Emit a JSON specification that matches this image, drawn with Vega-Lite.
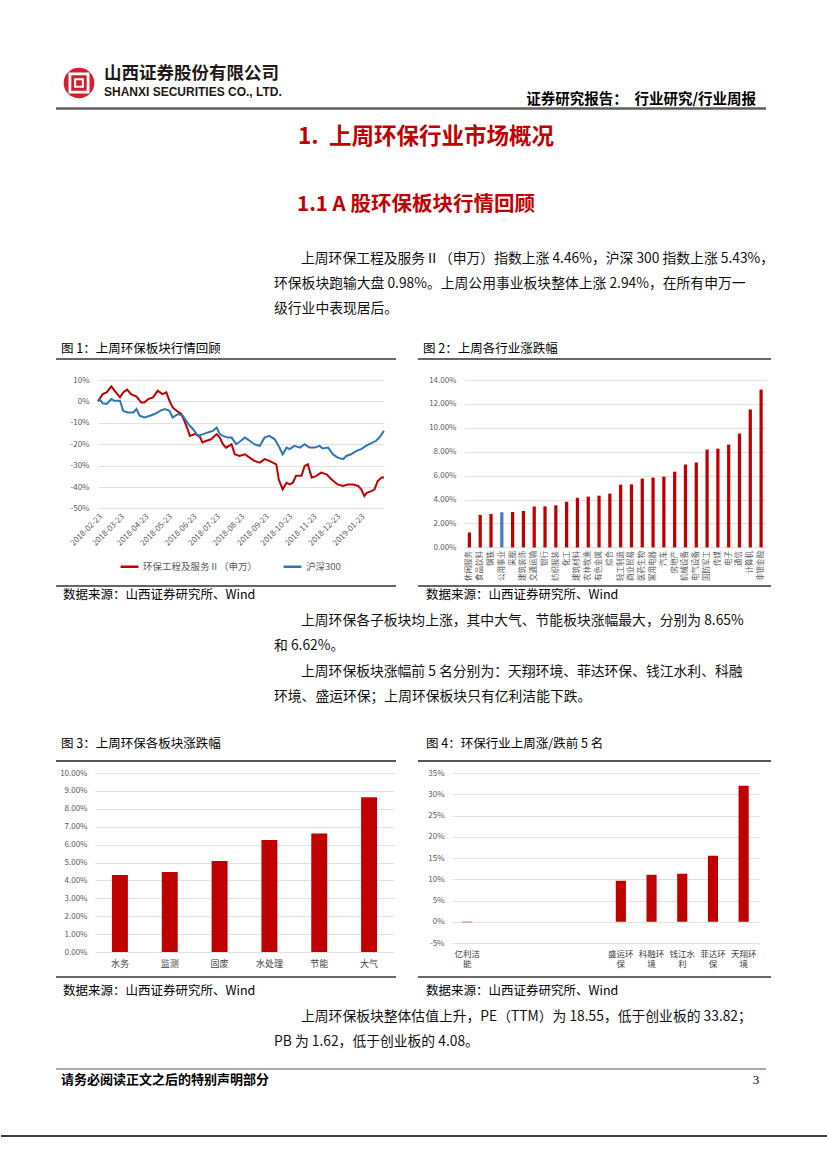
{
  "$schema": "https://vega.github.io/schema/vega-lite/v6.json",
  "padding": 0,
  "background": "white",
  "spacing": 0,
  "config": {
    "view": {"stroke": null},
    "font": "Noto Sans CJK SC",
    "text": {"font": "Noto Sans CJK SC"},
    "concat": {"spacing": 0},
    "axis": {"labelFont": "Noto Sans CJK SC", "labelColor": "#595959", "labelFontSize": 8, "gridColor": "#D9D9D9", "gridWidth": 0.8, "domain": false, "ticks": false, "labelFlush": false},
    "legend": {"labelFont": "Noto Sans CJK SC"}
  },
  "datasets": {
    "trend": [
      {"s": "环保工程及服务Ⅱ（申万）", "d": "2018-02-23", "v": 0},
      {"s": "环保工程及服务Ⅱ（申万）", "d": "2018-03-01", "v": 3.4},
      {"s": "环保工程及服务Ⅱ（申万）", "d": "2018-03-06", "v": 4.2},
      {"s": "环保工程及服务Ⅱ（申万）", "d": "2018-03-12", "v": 7.0},
      {"s": "环保工程及服务Ⅱ（申万）", "d": "2018-03-16", "v": 5.0},
      {"s": "环保工程及服务Ⅱ（申万）", "d": "2018-03-23", "v": 1.9},
      {"s": "环保工程及服务Ⅱ（申万）", "d": "2018-03-27", "v": 4.2},
      {"s": "环保工程及服务Ⅱ（申万）", "d": "2018-04-01", "v": 5.5},
      {"s": "环保工程及服务Ⅱ（申万）", "d": "2018-04-06", "v": 3.4},
      {"s": "环保工程及服务Ⅱ（申万）", "d": "2018-04-13", "v": 2.3},
      {"s": "环保工程及服务Ⅱ（申万）", "d": "2018-04-19", "v": -0.5},
      {"s": "环保工程及服务Ⅱ（申万）", "d": "2018-04-23", "v": -0.5},
      {"s": "环保工程及服务Ⅱ（申万）", "d": "2018-04-28", "v": 1.1},
      {"s": "环保工程及服务Ⅱ（申万）", "d": "2018-05-04", "v": 1.9},
      {"s": "环保工程及服务Ⅱ（申万）", "d": "2018-05-10", "v": 5.0},
      {"s": "环保工程及服务Ⅱ（申万）", "d": "2018-05-16", "v": 3.4},
      {"s": "环保工程及服务Ⅱ（申万）", "d": "2018-05-21", "v": 4.2},
      {"s": "环保工程及服务Ⅱ（申万）", "d": "2018-05-25", "v": 0.3},
      {"s": "环保工程及服务Ⅱ（申万）", "d": "2018-05-29", "v": -2.8},
      {"s": "环保工程及服务Ⅱ（申万）", "d": "2018-06-03", "v": -4.4},
      {"s": "环保工程及服务Ⅱ（申万）", "d": "2018-06-09", "v": -5.9},
      {"s": "环保工程及服务Ⅱ（申万）", "d": "2018-06-13", "v": -9.1},
      {"s": "环保工程及服务Ⅱ（申万）", "d": "2018-06-17", "v": -13.0},
      {"s": "环保工程及服务Ⅱ（申万）", "d": "2018-06-20", "v": -16.1},
      {"s": "环保工程及服务Ⅱ（申万）", "d": "2018-06-26", "v": -15.3},
      {"s": "环保工程及服务Ⅱ（申万）", "d": "2018-07-02", "v": -16.1},
      {"s": "环保工程及服务Ⅱ（申万）", "d": "2018-07-06", "v": -19.2},
      {"s": "环保工程及服务Ⅱ（申万）", "d": "2018-07-11", "v": -18.4},
      {"s": "环保工程及服务Ⅱ（申万）", "d": "2018-07-17", "v": -17.7},
      {"s": "环保工程及服务Ⅱ（申万）", "d": "2018-07-24", "v": -15.3},
      {"s": "环保工程及服务Ⅱ（申万）", "d": "2018-07-28", "v": -16.9},
      {"s": "环保工程及服务Ⅱ（申万）", "d": "2018-08-01", "v": -20.0},
      {"s": "环保工程及服务Ⅱ（申万）", "d": "2018-08-05", "v": -21.6},
      {"s": "环保工程及服务Ⅱ（申万）", "d": "2018-08-12", "v": -20.0},
      {"s": "环保工程及服务Ⅱ（申万）", "d": "2018-08-16", "v": -24.7},
      {"s": "环保工程及服务Ⅱ（申万）", "d": "2018-08-22", "v": -25.5},
      {"s": "环保工程及服务Ⅱ（申万）", "d": "2018-08-29", "v": -24.7},
      {"s": "环保工程及服务Ⅱ（申万）", "d": "2018-09-04", "v": -26.3},
      {"s": "环保工程及服务Ⅱ（申万）", "d": "2018-09-10", "v": -27.8},
      {"s": "环保工程及服务Ⅱ（申万）", "d": "2018-09-17", "v": -28.6},
      {"s": "环保工程及服务Ⅱ（申万）", "d": "2018-09-23", "v": -27.0},
      {"s": "环保工程及服务Ⅱ（申万）", "d": "2018-09-29", "v": -27.8},
      {"s": "环保工程及服务Ⅱ（申万）", "d": "2018-10-08", "v": -29.4},
      {"s": "环保工程及服务Ⅱ（申万）", "d": "2018-10-11", "v": -36.4},
      {"s": "环保工程及服务Ⅱ（申万）", "d": "2018-10-16", "v": -41.1},
      {"s": "环保工程及服务Ⅱ（申万）", "d": "2018-10-21", "v": -38.0},
      {"s": "环保工程及服务Ⅱ（申万）", "d": "2018-10-25", "v": -38.8},
      {"s": "环保工程及服务Ⅱ（申万）", "d": "2018-10-29", "v": -38.0},
      {"s": "环保工程及服务Ⅱ（申万）", "d": "2018-11-02", "v": -34.8},
      {"s": "环保工程及服务Ⅱ（申万）", "d": "2018-11-09", "v": -34.8},
      {"s": "环保工程及服务Ⅱ（申万）", "d": "2018-11-13", "v": -30.2},
      {"s": "环保工程及服务Ⅱ（申万）", "d": "2018-11-17", "v": -29.4},
      {"s": "环保工程及服务Ⅱ（申万）", "d": "2018-11-22", "v": -35.6},
      {"s": "环保工程及服务Ⅱ（申万）", "d": "2018-11-28", "v": -34.8},
      {"s": "环保工程及服务Ⅱ（申万）", "d": "2018-12-04", "v": -33.3},
      {"s": "环保工程及服务Ⅱ（申万）", "d": "2018-12-11", "v": -34.1},
      {"s": "环保工程及服务Ⅱ（申万）", "d": "2018-12-17", "v": -36.4},
      {"s": "环保工程及服务Ⅱ（申万）", "d": "2018-12-25", "v": -38.8},
      {"s": "环保工程及服务Ⅱ（申万）", "d": "2019-01-01", "v": -39.5},
      {"s": "环保工程及服务Ⅱ（申万）", "d": "2019-01-07", "v": -38.8},
      {"s": "环保工程及服务Ⅱ（申万）", "d": "2019-01-14", "v": -38.8},
      {"s": "环保工程及服务Ⅱ（申万）", "d": "2019-01-20", "v": -39.5},
      {"s": "环保工程及服务Ⅱ（申万）", "d": "2019-01-24", "v": -41.1},
      {"s": "环保工程及服务Ⅱ（申万）", "d": "2019-01-28", "v": -44.2},
      {"s": "环保工程及服务Ⅱ（申万）", "d": "2019-01-31", "v": -42.7},
      {"s": "环保工程及服务Ⅱ（申万）", "d": "2019-02-06", "v": -41.9},
      {"s": "环保工程及服务Ⅱ（申万）", "d": "2019-02-10", "v": -41.1},
      {"s": "环保工程及服务Ⅱ（申万）", "d": "2019-02-14", "v": -37.2},
      {"s": "环保工程及服务Ⅱ（申万）", "d": "2019-02-19", "v": -35.6},
      {"s": "环保工程及服务Ⅱ（申万）", "d": "2019-02-22", "v": -35.6},
      {"s": "沪深300", "d": "2018-02-23", "v": 0},
      {"s": "沪深300", "d": "2018-02-25", "v": 1.1},
      {"s": "沪深300", "d": "2018-03-01", "v": -0.9},
      {"s": "沪深300", "d": "2018-03-06", "v": -1.2},
      {"s": "沪深300", "d": "2018-03-12", "v": 1.1},
      {"s": "沪深300", "d": "2018-03-16", "v": 0.3},
      {"s": "沪深300", "d": "2018-03-23", "v": 0.3},
      {"s": "沪深300", "d": "2018-03-27", "v": -4.4},
      {"s": "沪深300", "d": "2018-04-02", "v": -5.2},
      {"s": "沪深300", "d": "2018-04-09", "v": -5.2},
      {"s": "沪深300", "d": "2018-04-13", "v": -3.6},
      {"s": "沪深300", "d": "2018-04-17", "v": -6.7},
      {"s": "沪深300", "d": "2018-04-23", "v": -7.5},
      {"s": "沪深300", "d": "2018-04-30", "v": -6.7},
      {"s": "沪深300", "d": "2018-05-06", "v": -5.9},
      {"s": "沪深300", "d": "2018-05-13", "v": -4.4},
      {"s": "沪深300", "d": "2018-05-19", "v": -3.6},
      {"s": "沪深300", "d": "2018-05-25", "v": -4.4},
      {"s": "沪深300", "d": "2018-05-29", "v": -7.5},
      {"s": "沪深300", "d": "2018-06-05", "v": -5.9},
      {"s": "沪深300", "d": "2018-06-11", "v": -6.7},
      {"s": "沪深300", "d": "2018-06-18", "v": -10.6},
      {"s": "沪深300", "d": "2018-06-24", "v": -13.0},
      {"s": "沪深300", "d": "2018-06-30", "v": -16.1},
      {"s": "沪深300", "d": "2018-07-07", "v": -15.3},
      {"s": "沪深300", "d": "2018-07-13", "v": -14.5},
      {"s": "沪深300", "d": "2018-07-19", "v": -13.8},
      {"s": "沪深300", "d": "2018-07-24", "v": -12.2},
      {"s": "沪深300", "d": "2018-07-28", "v": -15.3},
      {"s": "沪深300", "d": "2018-08-01", "v": -16.1},
      {"s": "沪深300", "d": "2018-08-07", "v": -16.9},
      {"s": "沪深300", "d": "2018-08-12", "v": -16.9},
      {"s": "沪深300", "d": "2018-08-18", "v": -20.0},
      {"s": "沪深300", "d": "2018-08-24", "v": -18.4},
      {"s": "沪深300", "d": "2018-08-29", "v": -16.9},
      {"s": "沪深300", "d": "2018-09-04", "v": -18.4},
      {"s": "沪深300", "d": "2018-09-10", "v": -20.0},
      {"s": "沪深300", "d": "2018-09-17", "v": -20.8},
      {"s": "沪深300", "d": "2018-09-23", "v": -16.9},
      {"s": "沪深300", "d": "2018-09-29", "v": -16.1},
      {"s": "沪深300", "d": "2018-10-06", "v": -17.7},
      {"s": "沪深300", "d": "2018-10-12", "v": -21.6},
      {"s": "沪深300", "d": "2018-10-16", "v": -24.7},
      {"s": "沪深300", "d": "2018-10-21", "v": -21.6},
      {"s": "沪深300", "d": "2018-10-25", "v": -22.3},
      {"s": "沪深300", "d": "2018-10-31", "v": -20.8},
      {"s": "沪深300", "d": "2018-11-07", "v": -21.6},
      {"s": "沪深300", "d": "2018-11-13", "v": -20.0},
      {"s": "沪深300", "d": "2018-11-19", "v": -21.6},
      {"s": "沪深300", "d": "2018-11-26", "v": -21.6},
      {"s": "沪深300", "d": "2018-12-02", "v": -20.8},
      {"s": "沪深300", "d": "2018-12-06", "v": -22.0},
      {"s": "沪深300", "d": "2018-12-13", "v": -21.6},
      {"s": "沪深300", "d": "2018-12-19", "v": -24.7},
      {"s": "沪深300", "d": "2018-12-25", "v": -26.3},
      {"s": "沪深300", "d": "2019-01-01", "v": -27.0},
      {"s": "沪深300", "d": "2019-01-05", "v": -25.5},
      {"s": "沪深300", "d": "2019-01-11", "v": -24.7},
      {"s": "沪深300", "d": "2019-01-18", "v": -23.1},
      {"s": "沪深300", "d": "2019-01-24", "v": -22.3},
      {"s": "沪深300", "d": "2019-01-30", "v": -20.8},
      {"s": "沪深300", "d": "2019-02-06", "v": -19.5},
      {"s": "沪深300", "d": "2019-02-12", "v": -18.4},
      {"s": "沪深300", "d": "2019-02-16", "v": -16.9},
      {"s": "沪深300", "d": "2019-02-22", "v": -13.8}
    ],
    "ind": [
      {"name": "休闲服务", "v": 1.25},
      {"name": "食品饮料", "v": 2.72},
      {"name": "钢铁", "v": 2.8},
      {"name": "公用事业", "v": 2.94},
      {"name": "采掘", "v": 2.96},
      {"name": "建筑装饰", "v": 3.05},
      {"name": "交通运输", "v": 3.42},
      {"name": "银行", "v": 3.43},
      {"name": "纺织服装", "v": 3.52},
      {"name": "化工", "v": 3.82},
      {"name": "建筑材料", "v": 4.15},
      {"name": "农林牧渔", "v": 4.25},
      {"name": "有色金属", "v": 4.33},
      {"name": "综合", "v": 4.5},
      {"name": "轻工制造", "v": 5.25},
      {"name": "商业贸易", "v": 5.27},
      {"name": "医药生物", "v": 5.76},
      {"name": "家用电器", "v": 5.84},
      {"name": "汽车", "v": 5.92},
      {"name": "房地产", "v": 6.33},
      {"name": "机械设备", "v": 6.93},
      {"name": "电气设备", "v": 7.1},
      {"name": "国防军工", "v": 8.18},
      {"name": "传媒", "v": 8.26},
      {"name": "电子", "v": 8.6},
      {"name": "通信", "v": 9.52},
      {"name": "计算机", "v": 11.53},
      {"name": "非银金融", "v": 13.2}
    ],
    "sub": [
      {"name": "水务", "v": 4.3},
      {"name": "监测", "v": 4.47},
      {"name": "固废", "v": 5.08},
      {"name": "水处理", "v": 6.26},
      {"name": "节能", "v": 6.62},
      {"name": "大气", "v": 8.65}
    ],
    "top": [
      {"name": "亿利洁能", "v": -0.12},
      {"name": "盛运环保", "v": 9.65},
      {"name": "科融环境", "v": 11.06},
      {"name": "钱江水利", "v": 11.3},
      {"name": "菲达环保", "v": 15.53},
      {"name": "天翔环境", "v": 32.0}
    ]
  },
  "vconcat": [
    {"width": 827, "height": 65, "data": {"values": []}, "mark": "point"},
    {
      "hconcat": [
        {"width": 60, "height": 42, "data": {"values": []}, "mark": "point"},
        {
          "width": 36, "height": 36,
          "data": {"values": [{"k": "logo"}]},
          "layer": [
            {"mark": {"type": "point", "shape": "circle", "filled": true, "color": "#D0202E", "opacity": 1, "size": 940}},
            {"mark": {"type": "point", "shape": "square", "filled": false, "stroke": "#ffffff", "strokeWidth": 2.8, "opacity": 1, "size": 330}},
            {"mark": {"type": "point", "shape": "square", "filled": false, "stroke": "#ffffff", "strokeWidth": 2, "opacity": 1, "size": 60}}
          ]
        },
        {"width": 7, "height": 36, "data": {"values": []}, "mark": "point"},
        {
          "width": 190, "height": 36,
          "layer": [
            {"data": {"values": [{"i": 0, "t": "山西证券股份有限公司"}]}, "mark": {"type": "text", "align": "left", "baseline": "middle", "fontSize": 17.5, "fontWeight": "bold", "color": "#231815"}, "encoding": {"text": {"field": "t"}, "x": {"datum": 0, "type": "quantitative", "scale": {"domain": [0, 1]}, "axis": null}, "y": {"field": "i", "type": "ordinal", "scale": {"type": "point", "padding": 0.5, "domain": [0, 1]}, "axis": null}}},
            {"data": {"values": [{"i": 1, "t": "SHANXI SECURITIES CO., LTD."}]}, "mark": {"type": "text", "align": "left", "baseline": "middle", "font": "Liberation Sans", "fontSize": 12, "fontWeight": "bold", "color": "#231815"}, "encoding": {"text": {"field": "t"}, "x": {"datum": 0, "type": "quantitative", "scale": {"domain": [0, 1]}, "axis": null}, "y": {"field": "i", "type": "ordinal", "scale": {"type": "point", "padding": 0.5, "domain": [0, 1]}, "axis": null}}}
          ]
        },
        {"width": 227, "height": 42, "data": {"values": []}, "mark": "point"},
        {"width": 235, "height": 42, "data": {"values": [{"t": "证券研究报告：\u00a0\u00a0行业研究/行业周报"}]}, "mark": {"type": "text", "align": "right", "baseline": "bottom", "fontSize": 14.5, "fontWeight": "bold", "color": "#000000"}, "encoding": {"text": {"field": "t"}, "x": {"datum": 1, "type": "quantitative", "scale": {"domain": [0, 1]}, "axis": null}, "y": {"datum": 0, "type": "quantitative", "scale": {"domain": [0, 1]}, "axis": null}}}
      ],
      "spacing": 0, "bounds": "flush"
    },
    {
      "hconcat": [
        {"width": 55, "height": 3, "data": {"values": []}, "mark": "point"},
        {"width": 710, "height": 3, "data": {"values": [{"r": 1}]}, "mark": {"type": "rule", "color": "#5F5F5F", "strokeWidth": 2.5}, "encoding": {"y": {"datum": 0.5, "type": "quantitative", "scale": {"domain": [0, 1]}, "axis": null}}}
      ],
      "spacing": 0, "bounds": "flush"
    },
    {
      "hconcat": [
        {"width": 275, "height": 53, "data": {"values": []}, "mark": "point"},
        {"width": 300, "height": 53, "data": {"values": [{"t": "1.\u00a0\u00a0上周环保行业市场概况"}]}, "mark": {"type": "text", "align": "center", "baseline": "middle", "fontSize": 22.5, "fontWeight": "bold", "color": "#C00000"}, "encoding": {"text": {"field": "t"}}}
      ],
      "spacing": 0, "bounds": "flush"
    },
    {
      "hconcat": [
        {"width": 265, "height": 83, "data": {"values": []}, "mark": "point"},
        {"width": 300, "height": 83, "data": {"values": [{"t": "1.1 A\u00a0股环保板块行情回顾"}]}, "mark": {"type": "text", "align": "center", "baseline": "middle", "fontSize": 20.5, "fontWeight": "bold", "color": "#C00000"}, "encoding": {"text": {"field": "t"}}}
      ],
      "spacing": 0, "bounds": "flush"
    },
    {
      "hconcat": [
        {"width": 273, "height": 75, "data": {"values": []}, "mark": "point"},
        {
          "width": 494, "height": 75,
          "data": {"values": [
            {"i": 0, "first": true, "t": "上周环保工程及服务Ⅱ（申万）指数上涨 4.46%，沪深 300 指数上涨 5.43%，"},
            {"i": 1, "first": false, "t": "环保板块跑输大盘 0.98%。上周公用事业板块整体上涨 2.94%，在所有申万一"},
            {"i": 2, "first": false, "t": "级行业中表现居后。"}
          ]},
          "encoding": {
            "text": {"field": "t"},
            "x": {"datum": 0, "type": "quantitative", "scale": {"domain": [0, 1]}, "axis": null},
            "y": {"field": "i", "type": "ordinal", "scale": {"type": "point", "padding": 0.5, "domain": [0, 1, 2]}, "axis": null}
          },
          "layer": [
            {"transform": [{"filter": "datum.first"}], "mark": {"type": "text", "align": "left", "baseline": "middle", "fontSize": 13.8, "color": "#111111", "dx": 27}},
            {"transform": [{"filter": "!datum.first"}], "mark": {"type": "text", "align": "left", "baseline": "middle", "fontSize": 13.8, "color": "#111111"}}
          ]
        }
      ],
      "spacing": 0, "bounds": "flush"
    },
    {"width": 827, "height": 18, "data": {"values": []}, "mark": "point"},
    {
      "hconcat": [
        {"width": 60, "height": 19, "data": {"values": []}, "mark": "point"},
        {"width": 362, "height": 19, "data": {"values": [{"t": "图 1：上周环保板块行情回顾"}]}, "mark": {"type": "text", "align": "left", "baseline": "middle", "fontSize": 12.5, "color": "#000000"}, "encoding": {"text": {"field": "t"}, "x": {"datum": 0, "type": "quantitative", "scale": {"domain": [0, 1]}, "axis": null}}},
        {"width": 345, "height": 19, "data": {"values": [{"t": "图 2：上周各行业涨跌幅"}]}, "mark": {"type": "text", "align": "left", "baseline": "middle", "fontSize": 12.5, "color": "#000000"}, "encoding": {"text": {"field": "t"}, "x": {"datum": 0, "type": "quantitative", "scale": {"domain": [0, 1]}, "axis": null}}}
      ],
      "spacing": 0, "bounds": "flush"
    },
    {
      "hconcat": [
        {"width": 55, "height": 2, "data": {"values": []}, "mark": "point"},
        {"width": 340, "height": 2, "data": {"values": [{"r": 1}]}, "mark": {"type": "rule", "color": "#333333", "strokeWidth": 1.6}, "encoding": {"y": {"datum": 0.5, "type": "quantitative", "scale": {"domain": [0, 1]}, "axis": null}}},
        {"width": 22, "height": 2, "data": {"values": []}, "mark": "point"},
        {"width": 353, "height": 2, "data": {"values": [{"r": 1}]}, "mark": {"type": "rule", "color": "#333333", "strokeWidth": 1.6}, "encoding": {"y": {"datum": 0.5, "type": "quantitative", "scale": {"domain": [0, 1]}, "axis": null}}}
      ],
      "spacing": 0, "bounds": "flush"
    },
    {"width": 827, "height": 15.3, "data": {"values": []}, "mark": "point"},
    {
      "hconcat": [
        {"width": 97, "height": 204.7, "data": {"values": []}, "mark": "point"},
        {
          "width": 286, "height": 128.4,
          "data": {"name": "trend"},
          "mark": {"type": "line", "strokeWidth": 2},
          "encoding": {
            "x": {"field": "d", "type": "temporal", "title": null,
              "scale": {"domain": [{"year": 2018, "month": 2, "date": 23}, {"year": 2019, "month": 2, "date": 22}]},
              "axis": {"values": [
                {"year": 2018, "month": 2, "date": 23}, {"year": 2018, "month": 3, "date": 23}, {"year": 2018, "month": 4, "date": 23},
                {"year": 2018, "month": 5, "date": 23}, {"year": 2018, "month": 6, "date": 23}, {"year": 2018, "month": 7, "date": 23},
                {"year": 2018, "month": 8, "date": 23}, {"year": 2018, "month": 9, "date": 23}, {"year": 2018, "month": 10, "date": 23},
                {"year": 2018, "month": 11, "date": 23}, {"year": 2018, "month": 12, "date": 23}, {"year": 2019, "month": 1, "date": 23}],
                "format": "%Y-%m-%d", "labelAngle": -45, "grid": false, "labelFontSize": 8, "labelPadding": 4, "labelOverlap": false}},
            "y": {"field": "v", "type": "quantitative", "title": null,
              "scale": {"domain": [-50, 10]},
              "axis": {"values": [-50, -40, -30, -20, -10, 0, 10], "labelExpr": "datum.value + '%'", "grid": true, "labelPadding": 9}},
            "color": {"field": "s", "type": "nominal",
              "scale": {"domain": ["环保工程及服务Ⅱ（申万）", "沪深300"], "range": ["#C00000", "#2E75B6"]},
              "legend": {"title": null, "orient": "none", "legendX": 118, "legendY": 556, "direction": "horizontal", "symbolType": "stroke", "symbolStrokeWidth": 2.5, "symbolSize": 320, "labelFontSize": 9.5, "labelColor": "#595959", "columnPadding": 20, "padding": 0, "labelOffset": 3}}
          }
        },
        {"width": 79.5, "height": 204.7, "data": {"values": []}, "mark": "point"},
        {
          "width": 302.5, "height": 167.4,
          "data": {"name": "ind"},
          "mark": {"type": "bar"},
          "encoding": {
            "x": {"field": "name", "type": "nominal", "sort": null, "title": null,
              "scale": {"paddingInner": 0.7, "paddingOuter": 0.35},
              "axis": {"labelAngle": 270, "labelFontSize": 7.5, "labelPadding": 3, "labelOverlap": false}},
            "y": {"field": "v", "type": "quantitative", "title": null,
              "scale": {"domain": [0, 14]},
              "axis": {"values": [0, 2, 4, 6, 8, 10, 12, 14], "labelExpr": "format(datum.value, '.2f') + '%'", "grid": true, "labelPadding": 8}},
            "color": {"condition": {"test": "datum.name === '公用事业'", "value": "#4A7EBB"}, "value": "#C00000"}
          }
        }
      ],
      "spacing": 0, "bounds": "flush"
    },
    {
      "hconcat": [
        {"width": 55, "height": 2, "data": {"values": []}, "mark": "point"},
        {"width": 340, "height": 2, "data": {"values": [{"r": 1}]}, "mark": {"type": "rule", "color": "#333333", "strokeWidth": 1.6}, "encoding": {"y": {"datum": 0.5, "type": "quantitative", "scale": {"domain": [0, 1]}, "axis": null}}},
        {"width": 22, "height": 2, "data": {"values": []}, "mark": "point"},
        {"width": 353, "height": 2, "data": {"values": [{"r": 1}]}, "mark": {"type": "rule", "color": "#333333", "strokeWidth": 1.6}, "encoding": {"y": {"datum": 0.5, "type": "quantitative", "scale": {"domain": [0, 1]}, "axis": null}}}
      ],
      "spacing": 0, "bounds": "flush"
    },
    {
      "hconcat": [
        {"width": 62, "height": 16, "data": {"values": []}, "mark": "point"},
        {"width": 363, "height": 16, "data": {"values": [{"t": "数据来源：山西证券研究所、Wind"}]}, "mark": {"type": "text", "align": "left", "baseline": "middle", "fontSize": 12.5, "color": "#000000"}, "encoding": {"text": {"field": "t"}, "x": {"datum": 0, "type": "quantitative", "scale": {"domain": [0, 1]}, "axis": null}}},
        {"width": 340, "height": 16, "data": {"values": [{"t": "数据来源：山西证券研究所、Wind"}]}, "mark": {"type": "text", "align": "left", "baseline": "middle", "fontSize": 12.5, "color": "#000000"}, "encoding": {"text": {"field": "t"}, "x": {"datum": 0, "type": "quantitative", "scale": {"domain": [0, 1]}, "axis": null}}}
      ],
      "spacing": 0, "bounds": "flush"
    },
    {"width": 827, "height": 5, "data": {"values": []}, "mark": "point"},
    {
      "hconcat": [
        {"width": 273, "height": 102, "data": {"values": []}, "mark": "point"},
        {
          "width": 494, "height": 102,
          "data": {"values": [
            {"i": 0, "first": true, "t": "上周环保各子板块均上涨，其中大气、节能板块涨幅最大，分别为 8.65%"},
            {"i": 1, "first": false, "t": "和 6.62%。"},
            {"i": 2, "first": true, "t": "上周环保板块涨幅前 5 名分别为：天翔环境、菲达环保、钱江水利、科融"},
            {"i": 3, "first": false, "t": "环境、盛运环保；上周环保板块只有亿利洁能下跌。"}
          ]},
          "encoding": {
            "text": {"field": "t"},
            "x": {"datum": 0, "type": "quantitative", "scale": {"domain": [0, 1]}, "axis": null},
            "y": {"field": "i", "type": "ordinal", "scale": {"type": "point", "padding": 0.5, "domain": [0, 1, 2, 3]}, "axis": null}
          },
          "layer": [
            {"transform": [{"filter": "datum.first"}], "mark": {"type": "text", "align": "left", "baseline": "middle", "fontSize": 13.8, "color": "#111111", "dx": 27}},
            {"transform": [{"filter": "!datum.first"}], "mark": {"type": "text", "align": "left", "baseline": "middle", "fontSize": 13.8, "color": "#111111"}}
          ]
        }
      ],
      "spacing": 0, "bounds": "flush"
    },
    {"width": 827, "height": 24, "data": {"values": []}, "mark": "point"},
    {
      "hconcat": [
        {"width": 60, "height": 20, "data": {"values": []}, "mark": "point"},
        {"width": 365, "height": 20, "data": {"values": [{"t": "图 3：上周环保各板块涨跌幅"}]}, "mark": {"type": "text", "align": "left", "baseline": "middle", "fontSize": 12.5, "color": "#000000"}, "encoding": {"text": {"field": "t"}, "x": {"datum": 0, "type": "quantitative", "scale": {"domain": [0, 1]}, "axis": null}}},
        {"width": 345, "height": 20, "data": {"values": [{"t": "图 4：环保行业上周涨/跌前 5 名"}]}, "mark": {"type": "text", "align": "left", "baseline": "middle", "fontSize": 12.5, "color": "#000000"}, "encoding": {"text": {"field": "t"}, "x": {"datum": 0, "type": "quantitative", "scale": {"domain": [0, 1]}, "axis": null}}}
      ],
      "spacing": 0, "bounds": "flush"
    },
    {"width": 827, "height": 6, "data": {"values": []}, "mark": "point"},
    {
      "hconcat": [
        {"width": 55, "height": 2, "data": {"values": []}, "mark": "point"},
        {"width": 340, "height": 2, "data": {"values": [{"r": 1}]}, "mark": {"type": "rule", "color": "#555555", "strokeWidth": 1.8}, "encoding": {"y": {"datum": 0.5, "type": "quantitative", "scale": {"domain": [0, 1]}, "axis": null}}},
        {"width": 22, "height": 2, "data": {"values": []}, "mark": "point"},
        {"width": 353, "height": 2, "data": {"values": [{"r": 1}]}, "mark": {"type": "rule", "color": "#555555", "strokeWidth": 1.8}, "encoding": {"y": {"datum": 0.5, "type": "quantitative", "scale": {"domain": [0, 1]}, "axis": null}}}
      ],
      "spacing": 0, "bounds": "flush"
    },
    {"width": 827, "height": 7, "data": {"values": []}, "mark": "point"},
    {
      "hconcat": [
        {"width": 94, "height": 203, "data": {"values": []}, "mark": "point"},
        {
          "width": 299, "height": 179,
          "data": {"name": "sub"},
          "mark": {"type": "bar", "color": "#C00000"},
          "encoding": {
            "x": {"field": "name", "type": "nominal", "sort": null, "title": null,
              "scale": {"paddingInner": 0.68, "paddingOuter": 0.34},
              "axis": {"labelAngle": 0, "labelFontSize": 9, "labelColor": "#404040", "labelPadding": 7}},
            "y": {"field": "v", "type": "quantitative", "title": null,
              "scale": {"domain": [0, 10]},
              "axis": {"values": [0, 1, 2, 3, 4, 5, 6, 7, 8, 9, 10], "labelExpr": "format(datum.value, '.2f') + '%'", "grid": true, "labelPadding": 8}}
          }
        },
        {"width": 58, "height": 203, "data": {"values": []}, "mark": "point"},
        {
          "width": 307, "height": 170,
          "data": {"name": "top"},
          "mark": {"type": "bar", "color": "#C00000"},
          "encoding": {
            "x": {"field": "name", "type": "nominal", "title": null,
              "scale": {"domain": ["亿利洁能", " ", "  ", "   ", "    ", "盛运环保", "科融环境", "钱江水利", "菲达环保", "天翔环境"], "paddingInner": 0.67, "paddingOuter": 0.335},
              "axis": {"labelAngle": 0, "labelFontSize": 8.5, "labelColor": "#404040", "labelPadding": 6, "labelBaseline": "top", "labelLineHeight": 10.5, "labelExpr": "length(trim(datum.label)) == 0 ? '' : [slice(datum.label, 0, 3), slice(datum.label, 3)]"}},
            "y": {"field": "v", "type": "quantitative", "title": null,
              "scale": {"domain": [-5, 35]},
              "axis": {"values": [-5, 0, 5, 10, 15, 20, 25, 30, 35], "labelExpr": "datum.value + '%'", "grid": true, "labelPadding": 8}}
          }
        }
      ],
      "spacing": 0, "bounds": "flush"
    },
    {
      "hconcat": [
        {"width": 55, "height": 2, "data": {"values": []}, "mark": "point"},
        {"width": 340, "height": 2, "data": {"values": [{"r": 1}]}, "mark": {"type": "rule", "color": "#666666", "strokeWidth": 1.8}, "encoding": {"y": {"datum": 0.5, "type": "quantitative", "scale": {"domain": [0, 1]}, "axis": null}}},
        {"width": 22, "height": 2, "data": {"values": []}, "mark": "point"},
        {"width": 353, "height": 2, "data": {"values": [{"r": 1}]}, "mark": {"type": "rule", "color": "#666666", "strokeWidth": 1.8}, "encoding": {"y": {"datum": 0.5, "type": "quantitative", "scale": {"domain": [0, 1]}, "axis": null}}}
      ],
      "spacing": 0, "bounds": "flush"
    },
    {
      "hconcat": [
        {"width": 62, "height": 26, "data": {"values": []}, "mark": "point"},
        {"width": 363, "height": 26, "data": {"values": [{"t": "数据来源：山西证券研究所、Wind"}]}, "mark": {"type": "text", "align": "left", "baseline": "middle", "fontSize": 12.5, "color": "#000000"}, "encoding": {"text": {"field": "t"}, "x": {"datum": 0, "type": "quantitative", "scale": {"domain": [0, 1]}, "axis": null}}},
        {"width": 340, "height": 26, "data": {"values": [{"t": "数据来源：山西证券研究所、Wind"}]}, "mark": {"type": "text", "align": "left", "baseline": "middle", "fontSize": 12.5, "color": "#000000"}, "encoding": {"text": {"field": "t"}, "x": {"datum": 0, "type": "quantitative", "scale": {"domain": [0, 1]}, "axis": null}}}
      ],
      "spacing": 0, "bounds": "flush"
    },
    {
      "hconcat": [
        {"width": 273, "height": 51, "data": {"values": []}, "mark": "point"},
        {
          "width": 494, "height": 51,
          "data": {"values": [
            {"i": 0, "first": true, "t": "上周环保板块整体估值上升，PE（TTM）为 18.55，低于创业板的 33.82；"},
            {"i": 1, "first": false, "t": "PB 为 1.62，低于创业板的 4.08。"}
          ]},
          "encoding": {
            "text": {"field": "t"},
            "x": {"datum": 0, "type": "quantitative", "scale": {"domain": [0, 1]}, "axis": null},
            "y": {"field": "i", "type": "ordinal", "scale": {"type": "point", "padding": 0.5, "domain": [0, 1]}, "axis": null}
          },
          "layer": [
            {"transform": [{"filter": "datum.first"}], "mark": {"type": "text", "align": "left", "baseline": "middle", "fontSize": 13.8, "color": "#111111", "dx": 27}},
            {"transform": [{"filter": "!datum.first"}], "mark": {"type": "text", "align": "left", "baseline": "middle", "fontSize": 13.8, "color": "#111111"}}
          ]
        }
      ],
      "spacing": 0, "bounds": "flush"
    },
    {"width": 827, "height": 13, "data": {"values": []}, "mark": "point"},
    {
      "hconcat": [
        {"width": 55, "height": 2, "data": {"values": []}, "mark": "point"},
        {"width": 710, "height": 2, "data": {"values": [{"r": 1}]}, "mark": {"type": "rule", "color": "#555555", "strokeWidth": 1}, "encoding": {"y": {"datum": 0.5, "type": "quantitative", "scale": {"domain": [0, 1]}, "axis": null}}}
      ],
      "spacing": 0, "bounds": "flush"
    },
    {
      "hconcat": [
        {"width": 60, "height": 20, "data": {"values": []}, "mark": "point"},
        {"width": 500, "height": 20, "data": {"values": [{"t": "请务必阅读正文之后的特别声明部分"}]}, "mark": {"type": "text", "align": "left", "baseline": "middle", "fontSize": 13, "fontWeight": "bold", "color": "#000000"}, "encoding": {"text": {"field": "t"}, "x": {"datum": 0, "type": "quantitative", "scale": {"domain": [0, 1]}, "axis": null}}},
        {"width": 190, "height": 20, "data": {"values": []}, "mark": "point"},
        {"width": 10, "height": 20, "data": {"values": [{"t": "3"}]}, "mark": {"type": "text", "align": "center", "baseline": "middle", "font": "Liberation Serif", "fontSize": 13, "color": "#000000"}, "encoding": {"text": {"field": "t"}}}
      ],
      "spacing": 0, "bounds": "flush"
    },
    {"width": 827, "height": 45, "data": {"values": []}, "mark": "point"},
    {"width": 827, "height": 2, "data": {"values": [{"r": 1}]}, "mark": {"type": "rule", "color": "#000000", "strokeWidth": 1.5}, "encoding": {"y": {"datum": 0.5, "type": "quantitative", "scale": {"domain": [0, 1]}, "axis": null}}},
    {"width": 827, "height": 33, "data": {"values": []}, "mark": "point"}
  ]
}
